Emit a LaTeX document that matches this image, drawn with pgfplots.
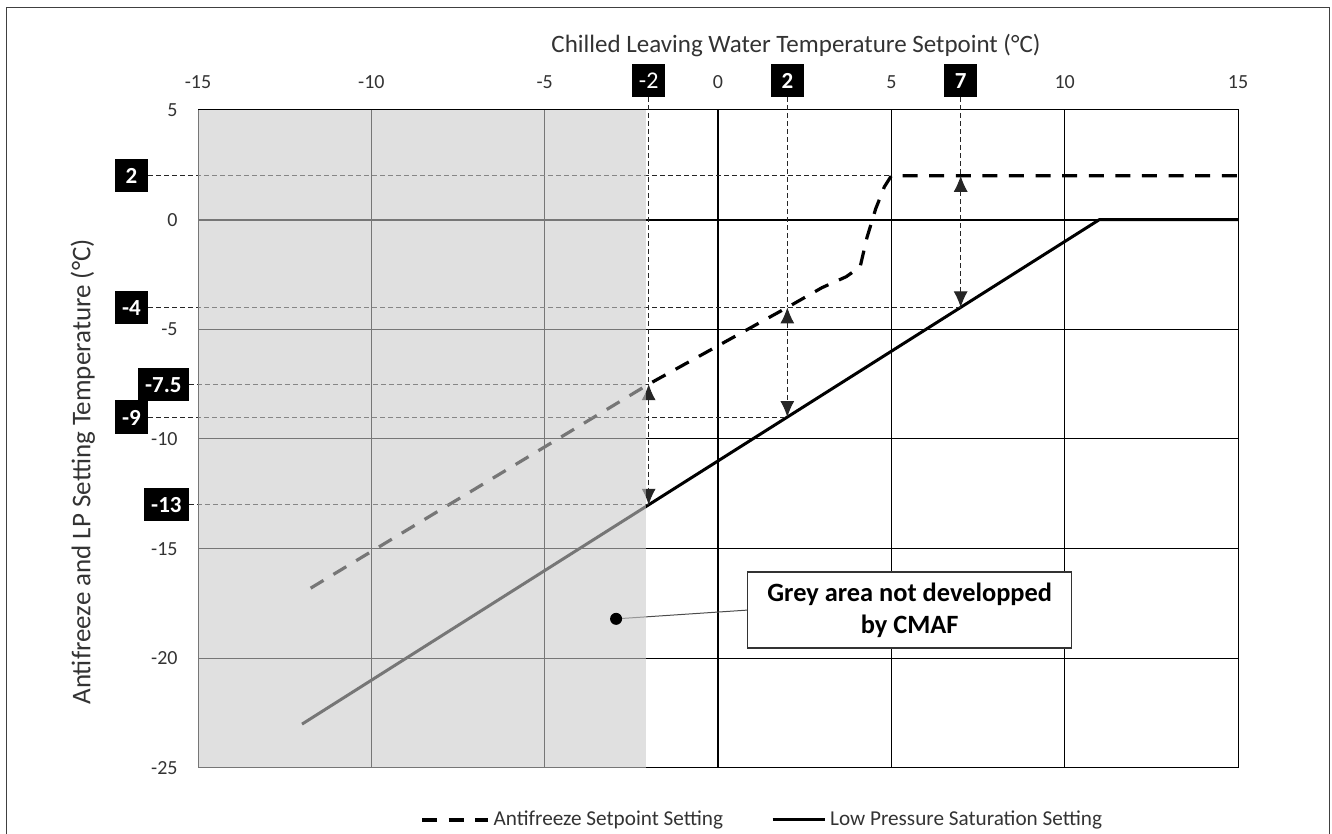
\documentclass[border=0pt]{standalone}
\usepackage{pgfplots}
\pgfplotsset{compat=1.18}
\usepackage{fontspec}
\setmainfont{Carlito}
\usetikzlibrary{arrows.meta}

\definecolor{txt}{HTML}{333333}
\definecolor{veil}{RGB}{202,202,202}

\tikzset{
  labelbox/.style={fill=black, text=white, font=\bfseries\fontsize{11.5}{13}\selectfont,
    minimum width=16.5pt, text height=8.2pt, text depth=0pt,
    inner xsep=3.5pt, inner ysep=4.2pt},
  guide/.style={black!85, line width=0.5pt, dash pattern=on 2.5pt off 1.5pt},
}
\pgfplotsset{
  legline/.style={legend image code/.code={\draw[##1] (0pt,0pt) -- (#1,0pt);}},
}

\begin{document}
\begin{tikzpicture}
\path[use as bounding box] (0,0) rectangle (666pt,417pt);
\draw[black!75, line width=0.6pt] (3.4pt,0pt) -- (3.4pt,413.2pt) -- (664.6pt,413.2pt) -- (664.6pt,0pt);

\begin{axis}[
  at={(99pt,33pt)}, anchor=south west,
  scale only axis, width=520pt, height=329pt,
  xmin=-15, xmax=15, ymin=-25, ymax=5,
  xtick={-15,-10,...,15}, ytick={-25,-20,...,5},
  major tick length=0pt,
  xticklabel pos=right,
  grid=major, grid style={black, line width=0.5pt},
  axis line style={black, line width=0.5pt},
  tick label style={font=\fontsize{10}{12}\selectfont, text=txt},
  x tick label style={yshift=7pt},
  y tick label style={xshift=-6.7pt},
  /pgf/number format/assume math mode=true,
  clip=false,
  legend style={at={(0.2135,-0.079)}, anchor=west, draw=none, fill=none,
    inner sep=0pt, font=\fontsize{10.6}{12}\selectfont, text=txt,
    /tikz/every even column/.append style={column sep=22pt}},
  legend columns=2, legend cell align=left,
]
% axes through zero
\draw[black, line width=1.1pt] (axis cs:0,-25) -- (axis cs:0,5);
\draw[black, line width=1.1pt] (axis cs:-15,0) -- (axis cs:15,0);

\addplot[black, line width=1.6pt, dash pattern=on 7.5pt off 5.8pt, legline=33pt]
  coordinates {(-11.75,-16.8) (-2,-7.5) (2,-4) (3,-3.1) (3.7,-2.6) (4.1,-2.15)
    (4.3,-0.8) (4.55,0.5) (4.8,1.5) (5,2) (15,2)};
\addlegendentry{Antifreeze Setpoint Setting}
\addplot[black, line width=1.5pt, legline=26pt]
  coordinates {(-12,-23) (11,0) (15,0)};
\addlegendentry{Low Pressure Saturation Setting}

% guide lines
\draw[guide] (axis cs:-16.43,2) -- (axis cs:5,2);
\draw[guide] (axis cs:-16.43,-4) -- (axis cs:7,-4);
\draw[guide] (axis cs:-15.26,-7.5) -- (axis cs:-2,-7.5);
\draw[guide] (axis cs:-16.43,-9) -- (axis cs:2,-9);
\draw[guide] (axis cs:-15.26,-13) -- (axis cs:-2,-13);
\draw[guide] (axis cs:-2,5.59) -- (axis cs:-2,-7.5);
\draw[guide] (axis cs:2,5.59) -- (axis cs:2,-4);
\draw[guide] (axis cs:7,5.59) -- (axis cs:7,2);
\draw[guide, {Latex[length=8pt,width=7pt]}-{Latex[length=8pt,width=7pt]}]
  (axis cs:-2,-7.5) -- (axis cs:-2,-13);
\draw[guide, {Latex[length=8pt,width=7pt]}-{Latex[length=8pt,width=7pt]}]
  (axis cs:2,-4) -- (axis cs:2,-9);
\draw[guide, {Latex[length=8pt,width=7pt]}-{Latex[length=8pt,width=7pt]}]
  (axis cs:7,2) -- (axis cs:7,-4);

% callout
\draw[black!70, line width=0.5pt] (axis cs:-2.94,-18.2) -- (axis cs:0.86,-17.8);

% grey area veil
\fill[veil, fill opacity=0.59] (axis cs:-15,-25) rectangle (axis cs:-2.07,5);

\fill[black] (axis cs:-2.94,-18.2) circle (3pt);
\node[draw=black!80, fill=white, line width=0.6pt, align=center,
  minimum width=162pt, minimum height=38pt, inner sep=2pt,
  font=\bfseries\fontsize{13.2}{16}\selectfont]
  at (axis cs:5.53,-17.8) {Grey area not developped\\by CMAF};

% value boxes
\node[labelbox, anchor=east] at (axis cs:-16.43,2) {2};
\node[labelbox, anchor=east] at (axis cs:-16.43,-4) {-4};
\node[labelbox, anchor=east] at (axis cs:-15.26,-7.5) {-7.5};
\node[labelbox, anchor=east] at (axis cs:-16.43,-9) {-9};
\node[labelbox, anchor=east] at (axis cs:-15.26,-13) {-13};
\node[labelbox, font=\fontsize{12}{13}\selectfont] at (axis cs:-2,6.345) {-2};
\node[labelbox] at (axis cs:2,6.345) {2};
\node[labelbox] at (axis cs:7,6.345) {7};

% axis titles
\node[text=txt, font=\fontsize{12.5}{14}\selectfont] at (axis cs:2.25,7.96)
  {Chilled Leaving Water Temperature Setpoint (°C)};
\node[text=txt, font=\fontsize{13.5}{15}\selectfont, rotate=90] at (axis cs:-18.32,-11.5)
  {Antifreeze and LP Setting Temperature (°C)};
\end{axis}
\end{tikzpicture}
\end{document}
